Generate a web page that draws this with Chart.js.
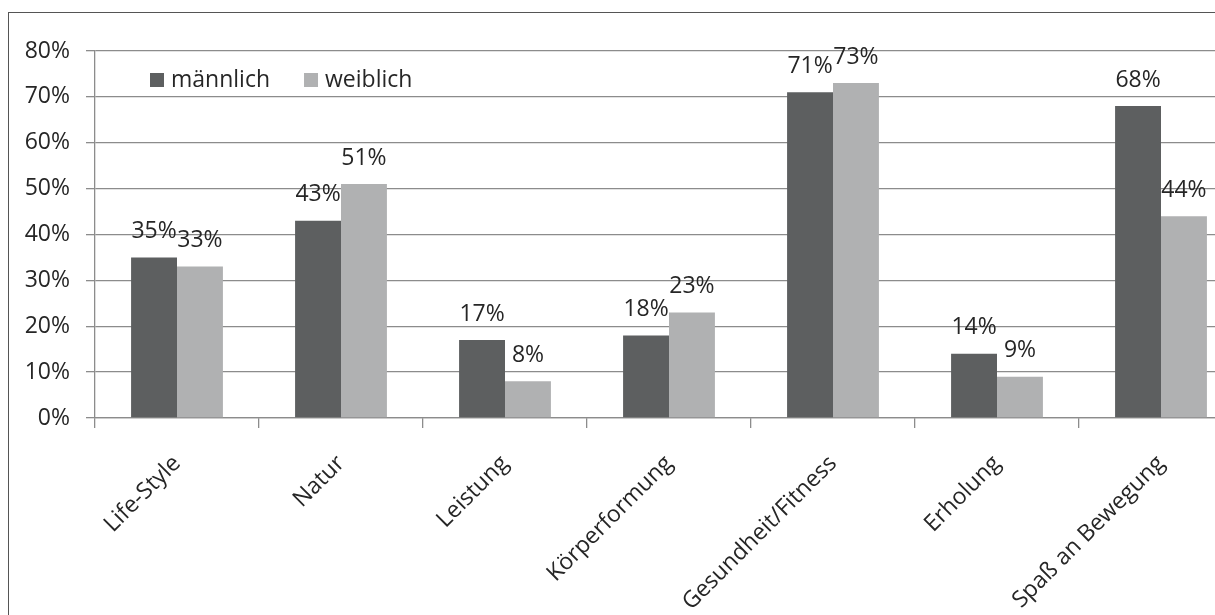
<!DOCTYPE html>
<html lang="de">
<head>
<meta charset="utf-8">
<title>Motive nach Geschlecht</title>
<script src="https://cdn.jsdelivr.net/npm/chart.js@4.4.0/dist/chart.umd.min.js"></script>
<style>
  html, body { margin: 0; padding: 0; background: #fff; overflow: hidden; }
  #wrap { position: relative; width: 1215px; height: 615px; overflow: hidden; }
  #frame {
    position: absolute; left: 8px; top: 12px;
    width: 1400px; height: 800px;
    border: 1.5px solid #555; box-sizing: border-box;
  }
  #chart { position: absolute; left: 0; top: 0; }
</style>
</head>
<body>
<div id="wrap">
  <div id="frame"></div>
  <canvas id="chart" width="1300" height="700"></canvas>
</div>
<script>
// Kategorien und Werte (Anteile in %)
const categories = ['Life-Style', 'Natur', 'Leistung', 'Körperformung', 'Gesundheit/Fitness', 'Erholung', 'Spaß an Bewegung'];
const maennlich = [35, 43, 17, 18, 71, 14, 68];
const weiblich  = [33, 51, 8, 23, 73, 9, 44];
const yTicks    = [0, 10, 20, 30, 40, 50, 60, 70, 80];

const FONT = "'Open Sans', 'Noto Sans', sans-serif";
const TEXT = '#262626';
const GRID = '#8c8c8c';

// Prozentwerte über den Balken
const valueLabels = {
  id: 'valueLabels',
  afterDatasetsDraw(chart) {
    const ctx = chart.ctx;
    ctx.save();
    ctx.font = '23px ' + FONT;
    ctx.fillStyle = TEXT;
    ctx.textAlign = 'center';
    ctx.textBaseline = 'middle';
    chart.data.datasets.forEach((ds, i) => {
      chart.getDatasetMeta(i).data.forEach((bar, j) => {
        ctx.fillText(ds.data[j] + '%', bar.x, bar.y - 26);
      });
    });
    ctx.restore();
  }
};

// Legende innerhalb der Zeichenfläche, oben links
const innerLegend = {
  id: 'innerLegend',
  afterDraw(chart) {
    const ctx = chart.ctx;
    const area = chart.chartArea;
    let x = area.left + 55;
    const y = area.top + 29;
    ctx.save();
    ctx.font = '23px ' + FONT;
    ctx.textBaseline = 'middle';
    chart.data.datasets.forEach(ds => {
      ctx.fillStyle = ds.backgroundColor;
      ctx.fillRect(x, y - 7, 14, 14);
      ctx.fillStyle = TEXT;
      ctx.fillText(ds.label, x + 21, y);
      x += 21 + ctx.measureText(ds.label).width + 34;
    });
    ctx.restore();
  }
};

new Chart(document.getElementById('chart'), {
  type: 'bar',
  data: {
    labels: categories,
    datasets: [
      { label: 'männlich', data: maennlich, backgroundColor: '#5d5f60' },
      { label: 'weiblich', data: weiblich, backgroundColor: '#b0b1b2' }
    ]
  },
  options: {
    responsive: false,
    animation: false,
    devicePixelRatio: 1,
    categoryPercentage: 0.56,
    barPercentage: 1.0,
    layout: { padding: { top: 51, right: 57, left: 0, bottom: 0 } },
    plugins: {
      legend: { display: false },
      tooltip: { enabled: false }
    },
    scales: {
      x: {
        offset: true,
        grid: { offset: true, drawOnChartArea: false, drawTicks: true, tickLength: 10, color: GRID, lineWidth: 1.3 },
        border: { display: true, color: GRID, width: 1.3 },
        ticks: {
          color: TEXT,
          font: { family: FONT, size: 23 },
          maxRotation: 45,
          minRotation: 45,
          padding: 22,
          autoSkip: false
        },
        afterFit(scale) { scale.height = 700 - 418; }
      },
      y: {
        min: 0,
        max: 80,
        afterBuildTicks(scale) { scale.ticks = yTicks.map(v => ({ value: v })); },
        grid: { color: GRID, lineWidth: 1.3, tickLength: 9 },
        border: { display: true, color: GRID, width: 1.3 },
        ticks: {
          color: TEXT,
          font: { family: FONT, size: 23 },
          padding: 16,
          callback: v => v + '%'
        },
        afterFit(scale) { scale.width = 95; }
      }
    }
  },
  plugins: [valueLabels, innerLegend]
});
</script>
</body>
</html>
